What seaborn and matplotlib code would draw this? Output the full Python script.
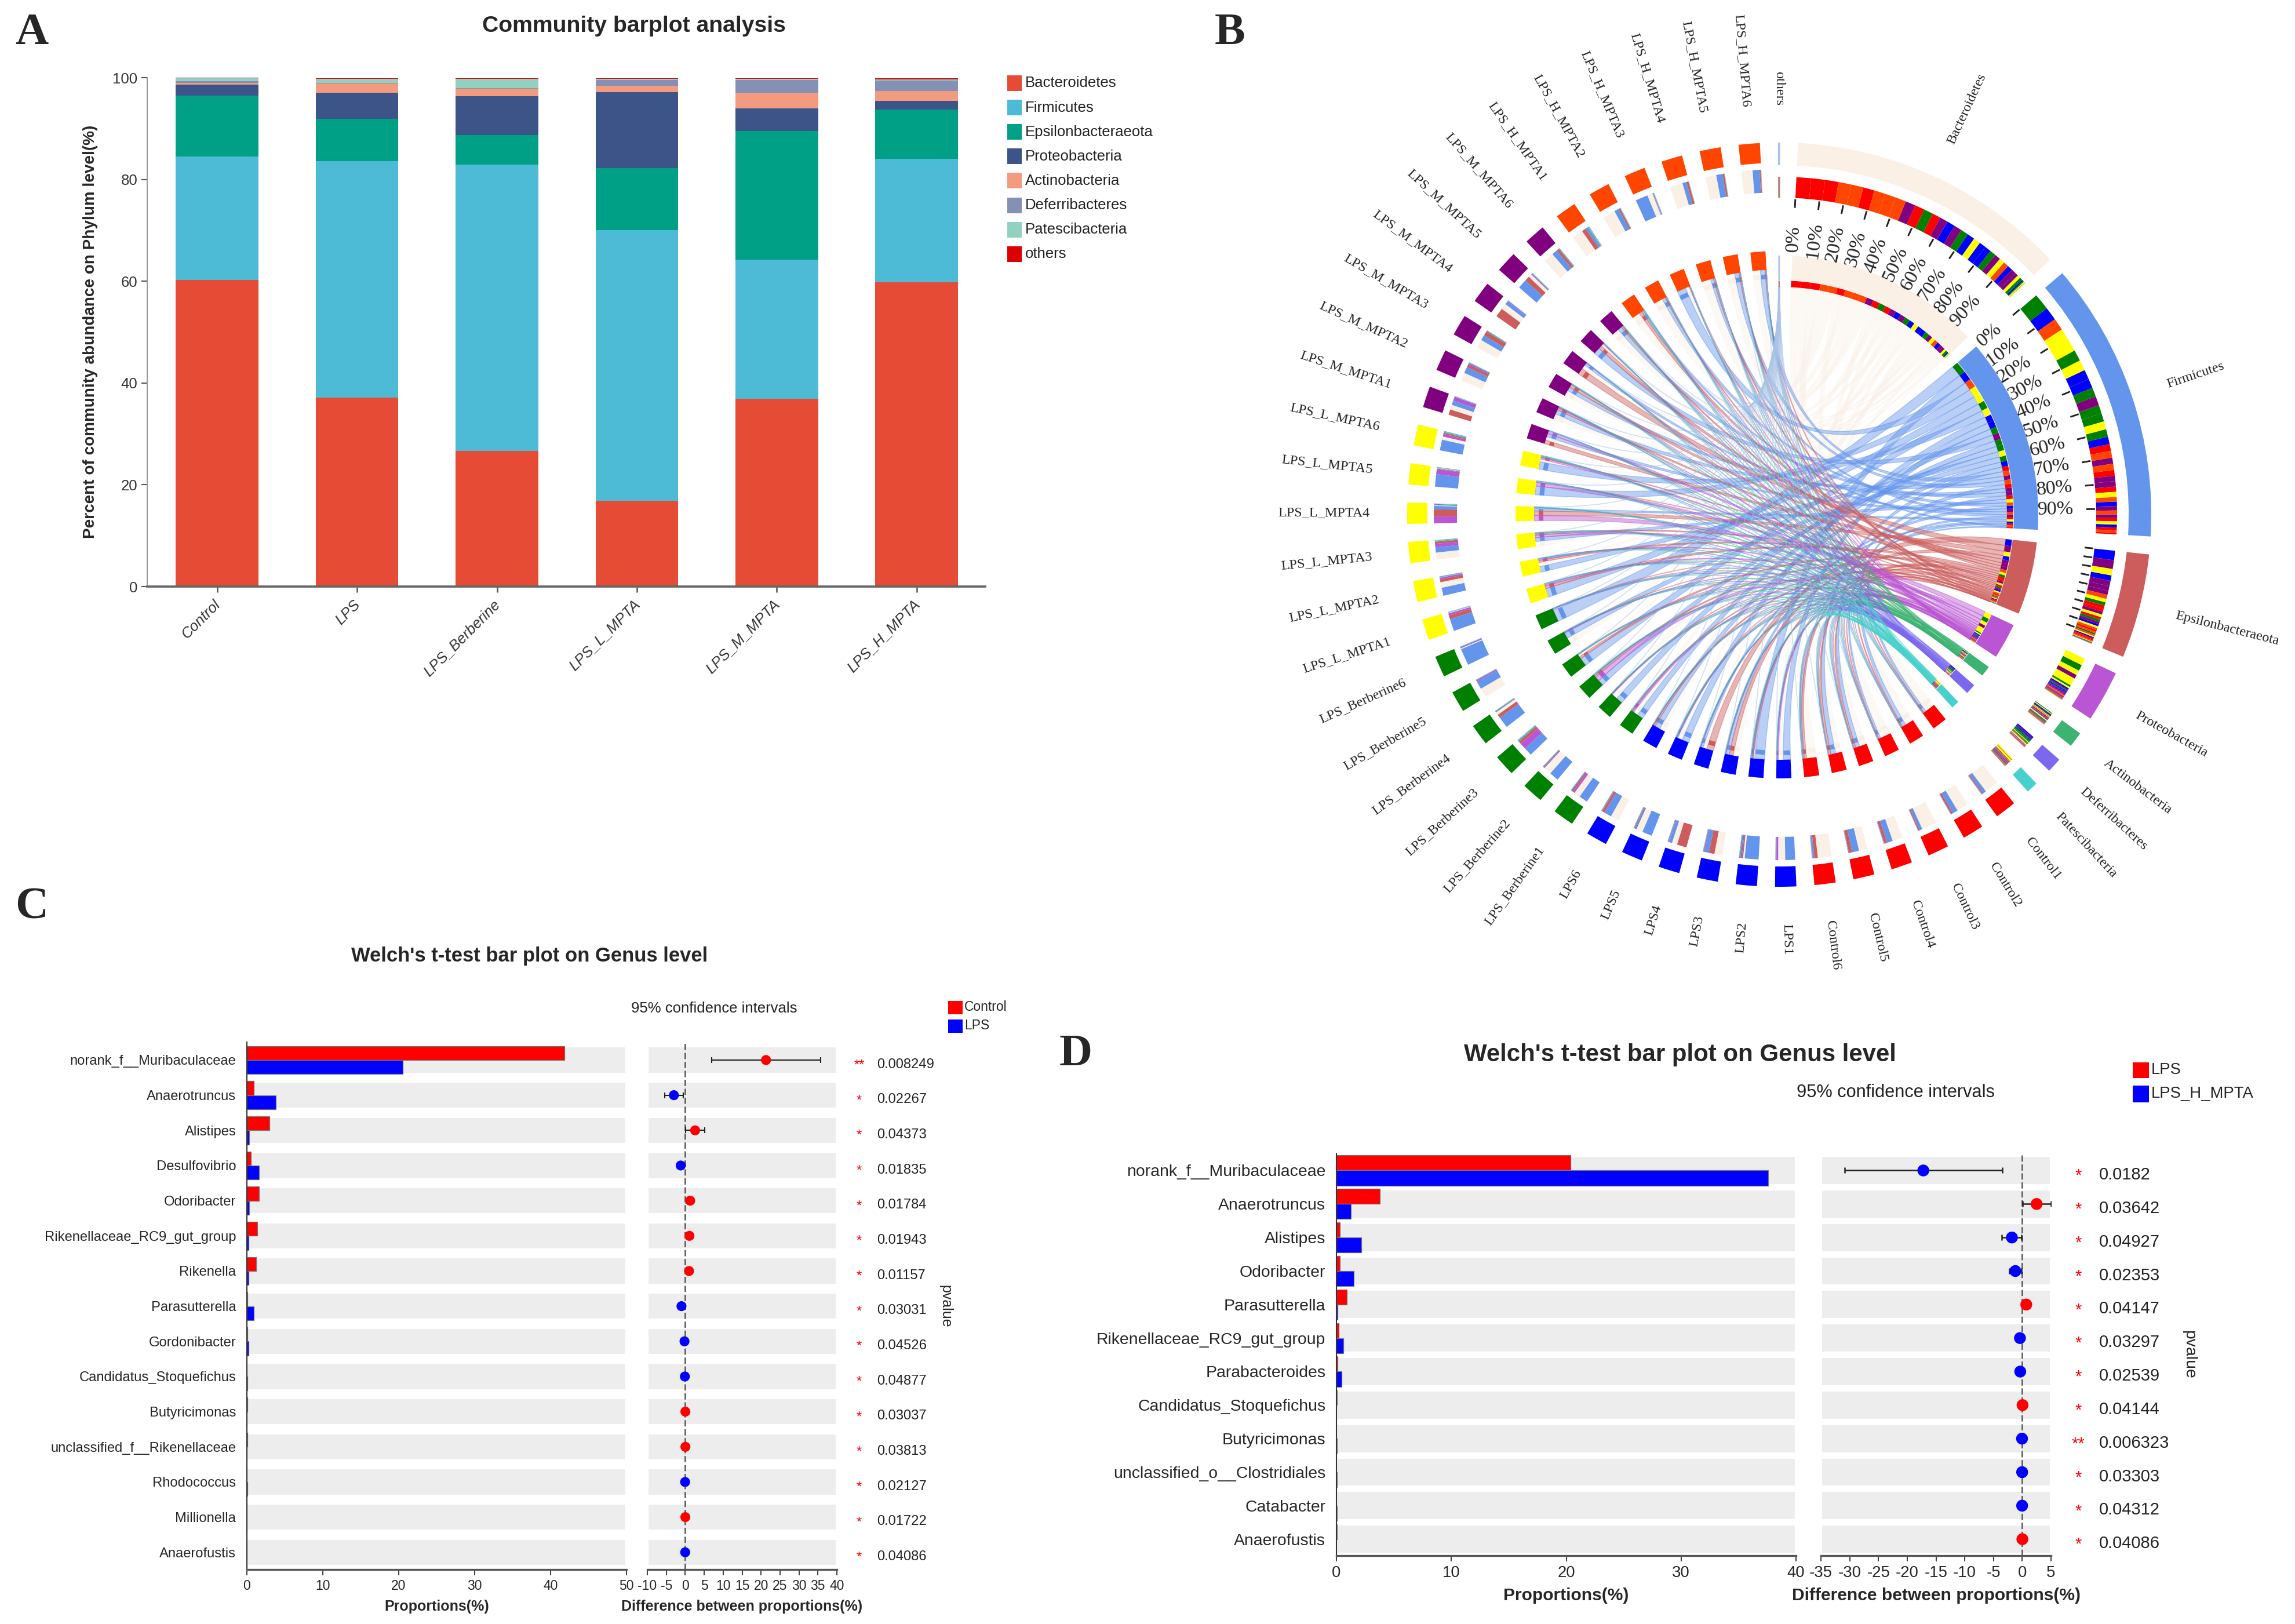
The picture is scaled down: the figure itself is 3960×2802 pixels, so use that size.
import numpy as np
import pandas as pd
import matplotlib
matplotlib.use('Agg')
import matplotlib.pyplot as plt
from matplotlib.patches import Wedge, Rectangle, PathPatch
from matplotlib.path import Path
from matplotlib.transforms import ScaledTranslation
import seaborn as sns

# panel A, percent per group
groups = ['Control', 'LPS', 'LPS_Berberine', 'LPS_L_MPTA', 'LPS_M_MPTA', 'LPS_H_MPTA']
phyla = ['Bacteroidetes', 'Firmicutes', 'Epsilonbacteraeota', 'Proteobacteria',
         'Actinobacteria', 'Deferribacteres', 'Patescibacteria', 'others']
phyla_colors = ['#E64B35', '#4DBBD5', '#00A087', '#3C5488', '#F39B7F', '#8491B4', '#91D1C2', '#DC0000']
bar_bacteroidetes = [60.2, 37.1, 26.7, 16.8, 36.9, 59.8]
bar_firmicutes = [24.3, 46.5, 56.2, 53.2, 27.3, 24.2]
bar_epsilon = [12.0, 8.3, 5.8, 12.2, 25.3, 9.7]
bar_proteo = [2.1, 5.1, 7.6, 14.9, 4.5, 1.8]
bar_actino = [0.4, 1.9, 1.5, 1.3, 3.0, 1.9]
bar_deferri = [0.3, 0.1, 0.1, 1.2, 2.6, 2.0]
bar_patesci = [0.6, 0.8, 1.9, 0.2, 0.2, 0.3]
bar_others = [0.1, 0.1, 0.1, 0.1, 0.1, 0.2]

# panel B, percent per sample (Control1-6, LPS1-6, Berberine1-6, L1-6, M1-6, H1-6)
sample_names = (['Control%d' % i for i in range(1, 7)] + ['LPS%d' % i for i in range(1, 7)]
                + ['LPS_Berberine%d' % i for i in range(1, 7)] + ['LPS_L_MPTA%d' % i for i in range(1, 7)]
                + ['LPS_M_MPTA%d' % i for i in range(1, 7)] + ['LPS_H_MPTA%d' % i for i in range(1, 7)])
s_bacteroidetes = [72, 60, 76, 52, 44, 70, 36, 8, 38, 25, 32, 42, 33, 40, 2, 14, 48, 5,
                   3, 28, 35, 3, 2, 16, 24, 38, 42, 30, 17, 52, 55, 68, 25, 70, 60, 58]
s_firmicutes = [17, 27, 15, 30, 36, 8, 50, 68, 22, 14, 48, 38, 45, 48, 40, 55, 40, 85,
                62, 40, 26, 16, 62, 52, 22, 30, 28, 18, 47, 28, 12, 25, 58, 22, 34, 36]
s_epsilon = [6, 9, 6, 13, 16, 17, 0.5, 6, 27, 45, 2, 12, 8, 3, 12, 16, 1, 0.5,
             18, 14, 10, 32, 3, 6, 27, 14, 22, 45, 24, 12, 20, 8, 1, 11, 9, 6]
s_proteo = [2, 2, 1.5, 3, 2.5, 2, 8, 3, 4, 3, 3, 2, 10, 2, 30, 1, 5, 1,
            10, 8, 17, 35, 25, 12, 20, 3, 2, 3, 5, 2, 2, 1, 2, 1, 1, 1]
s_actino = [0.5, 0.5, 0.3, 0.5, 0.5, 0.3, 1, 4, 2, 2, 4, 2, 2, 2, 4, 3, 2, 2,
            2, 2, 3, 3, 2, 4, 1, 2, 3, 1, 2, 3, 3, 2, 2, 1, 1, 0.5]
s_deferri = [0.5, 0.3, 0.2, 0.5, 0.4, 0.3, 4, 6, 1, 2, 5, 2, 3, 4, 3, 3, 3, 5,
             1, 2, 2, 3, 1, 2, 1, 5, 1, 1, 1, 1, 0.5, 0.3, 2, 0.3, 0.3, 0.5]
s_patesci = [1.5, 1, 0.8, 1, 0.7, 2, 0.5, 1.5, 1, 1, 1.5, 1, 1, 1, 2, 1.5, 1, 0.5,
             2, 2.5, 3, 3, 3, 3, 2, 1, 1, 0.5, 2, 1, 3, 1.5, 1.5, 1, 1, 1]
s_others = [0.2, 0.2, 0.2, 0.3, 0.2, 0.3, 0.3, 0.4, 0.4, 0.3, 0.3, 0.3, 0.2, 0.3, 0.3, 0.3, 0.2, 0.2,
            0.3, 0.4, 0.4, 0.3, 0.2, 0.3, 0.4, 0.3, 0.2, 0.3, 0.4, 0.2, 0.3, 0.3, 0.3, 0.2, 0.3, 0.2]
sector_colors = ['#FAF0E6', '#6495ED', '#CD5C5C', '#BA55D3', '#3CB371', '#7B68EE', '#48D1CC', '#A9C4E8']
group_colors = ['#FF0000', '#0000FF', '#008000', '#FFFF00', '#800080', '#FF4500']

# panel C
c_genera = ['norank_f__Muribaculaceae', 'Anaerotruncus', 'Alistipes', 'Desulfovibrio', 'Odoribacter',
            'Rikenellaceae_RC9_gut_group', 'Rikenella', 'Parasutterella', 'Gordonibacter',
            'Candidatus_Stoquefichus', 'Butyricimonas', 'unclassified_f__Rikenellaceae',
            'Rhodococcus', 'Millionella', 'Anaerofustis']
c_control = [41.8, 0.9, 3.0, 0.5, 1.6, 1.4, 1.2, 0.05, 0.05, 0.02, 0.05, 0.05, 0.01, 0.03, 0.01]
c_lps = [20.5, 3.8, 0.3, 1.6, 0.3, 0.2, 0.2, 0.9, 0.2, 0.1, 0.02, 0.01, 0.05, 0.01, 0.03]
c_diff = [21.3, -3.0, 2.6, -1.2, 1.3, 1.1, 1.0, -1.0, -0.2, -0.1, 0.03, 0.04, -0.04, 0.02, -0.02]
c_low = [7.0, -5.4, 0.1, -2.2, 0.3, 0.2, 0.2, -1.9, -0.4, -0.2, 0.0, 0.0, -0.1, 0.0, -0.05]
c_high = [35.7, -0.5, 5.2, -0.2, 2.3, 2.0, 1.8, -0.1, 0.0, 0.0, 0.06, 0.08, 0.0, 0.05, 0.0]
c_pvalues = ['0.008249', '0.02267', '0.04373', '0.01835', '0.01784', '0.01943', '0.01157', '0.03031',
             '0.04526', '0.04877', '0.03037', '0.03813', '0.02127', '0.01722', '0.04086']
c_stars = ['**'] + ['*'] * 14

# panel D
d_genera = ['norank_f__Muribaculaceae', 'Anaerotruncus', 'Alistipes', 'Odoribacter', 'Parasutterella',
            'Rikenellaceae_RC9_gut_group', 'Parabacteroides', 'Candidatus_Stoquefichus', 'Butyricimonas',
            'unclassified_o__Clostridiales', 'Catabacter', 'Anaerofustis']
d_lps = [20.4, 3.8, 0.3, 0.3, 0.9, 0.2, 0.1, 0.06, 0.02, 0.02, 0.02, 0.03]
d_hmpta = [37.6, 1.25, 2.15, 1.5, 0.1, 0.6, 0.45, 0.02, 0.06, 0.04, 0.04, 0.01]
d_diff = [-17.2, 2.5, -1.8, -1.2, 0.7, -0.4, -0.35, 0.05, -0.04, -0.02, -0.02, 0.02]
d_low = [-30.9, 0.1, -3.6, -2.3, 0.1, -0.7, -0.6, 0.01, -0.07, -0.04, -0.04, 0.0]
d_high = [-3.5, 5.0, -0.1, -0.1, 1.4, -0.1, -0.1, 0.09, -0.01, 0.0, 0.0, 0.04]
d_pvalues = ['0.0182', '0.03642', '0.04927', '0.02353', '0.04147', '0.03297', '0.02539',
             '0.04144', '0.006323', '0.03303', '0.04312', '0.04086']
d_stars = ['*'] * 8 + ['**'] + ['*'] * 3

SANS = 'Liberation Sans'
SERIF = 'Liberation Serif'
W, H = 3960, 2802

sns.set_style('white')
plt.rcParams['font.family'] = [SANS, 'DejaVu Sans']
plt.rcParams['axes.unicode_minus'] = False

fig = plt.figure(figsize=(W / 300, H / 300), dpi=300, facecolor='white')


def px_axes(left, top, right, bottom):
    return fig.add_axes([left / W, 1 - bottom / H, (right - left) / W, (bottom - top) / H])


# whole figure overlay in pixels, y pointing down
over = fig.add_axes([0, 0, 1, 1], zorder=5)
over.set_xlim(0, W)
over.set_ylim(H, 0)
over.axis('off')
over.patch.set_alpha(0)

for letter, x, y in [('A', 26, 58), ('B', 2096, 58), ('C', 26, 1566), ('D', 1828, 1820)]:
    over.text(x, y, letter, family=SERIF, fontweight='bold', fontsize=19, va='center', ha='left')

# ---- A: stacked bars
ax_a = px_axes(254, 134, 1700, 1012)
stack = np.array([bar_bacteroidetes, bar_firmicutes, bar_epsilon, bar_proteo,
                  bar_actino, bar_deferri, bar_patesci, bar_others])
tops = stack.cumsum(axis=0)
for k in range(len(phyla) - 1, -1, -1):
    sns.barplot(x=groups, y=tops[k], color=phyla_colors[k], width=0.59, saturation=1,
                linewidth=0, ax=ax_a, order=groups)
ax_a.set_xlim(-0.5, 5.49)
ax_a.set_ylim(0, 100)
ax_a.set_yticks([0, 20, 40, 60, 80, 100])
ax_a.tick_params(axis='y', labelsize=6.2, length=2.5, width=0.5, color='#555555', pad=1.5, labelcolor='#333333', left=True)
ax_a.tick_params(axis='x', length=2.5, width=0.6, color='#555555', pad=2, bottom=True)
ax_a.set_xticks(range(6))
ax_a.set_xticklabels(groups, rotation=45, ha='right', rotation_mode='anchor', fontsize=6.2,
                     style='italic', color='#333333')
shift = ScaledTranslation(-7 / 300, 0, fig.dpi_scale_trans)
for lab in ax_a.get_xticklabels():
    lab.set_transform(lab.get_transform() + shift)
ax_a.set_ylabel('')
sns.despine(ax=ax_a)
ax_a.spines['bottom'].set_color('#666666')
ax_a.spines['bottom'].set_linewidth(0.9)
ax_a.spines['left'].set_color('#888888')
ax_a.spines['left'].set_linewidth(0.4)
over.text(1094, 45, 'Community barplot analysis', fontsize=9.4, fontweight='bold', ha='center', va='center')
over.text(156, 572, 'Percent of community abundance on Phylum level(%)', fontsize=6.7, fontweight='bold',
          rotation=90, ha='center', va='center')
for k, name in enumerate(phyla):
    over.add_patch(Rectangle((1738, 130 + 42.1 * k), 25, 27, color=phyla_colors[k], lw=0))
    over.text(1769, 143.5 + 42.1 * k, name, fontsize=6.2, va='center', ha='left', color='#222222')

# ---- B: chord diagram
CX, CY = 3070, 888
BLOCK = 3.3
matrix = np.array([s_bacteroidetes, s_firmicutes, s_epsilon, s_proteo, s_actino, s_deferri, s_patesci, s_others],
                  dtype=float)
matrix = matrix / matrix.sum(axis=0) * BLOCK
sector_width = matrix.sum(axis=1)
GAP = (360 - 2 * BLOCK * len(sample_names)) / (len(sample_names) + len(phyla))
sample_color = np.repeat(group_colors, 6)


def polar(a, r):
    a = np.radians(a)
    return CX + r * np.sin(a), CY - r * np.cos(a)


def arc(a0, a1, r_in, r_out, color):
    over.add_patch(Wedge((CX, CY), r_out, a0 - 90, a1 - 90, width=r_out - r_in, color=color, lw=0, zorder=3))


# sector start angles, clockwise from the top, others comes first
order = [7, 0, 1, 2, 3, 4, 5, 6]
phy_start = {}
pos = -0.2
for k in order:
    phy_start[k] = pos
    pos += sector_width[k] + GAP
smp_start = [pos + i * (BLOCK + GAP) for i in range(len(sample_names))]

# segment spans, sorted largest first on both ends
phy_span = {}
for k in order:
    a = phy_start[k]
    for i in np.argsort(-matrix[k], kind='stable'):
        phy_span[(k, i)] = (a, a + matrix[k, i])
        a += matrix[k, i]
smp_span = {}
for i in range(len(sample_names)):
    a = smp_start[i]
    for k in np.argsort(-matrix[:, i], kind='stable'):
        smp_span[(k, i)] = (a, a + matrix[k, i])
        a += matrix[k, i]

# ribbons, thin ones keep a visible edge
for k in range(len(phyla)):
    for i in range(len(sample_names)):
        p0, p1 = phy_span[(k, i)]
        s0, s1 = smp_span[(k, i)]
        verts = [polar(p0, 393), polar(p1, 393), (CX, CY), polar(s0, 423), polar(s1, 423), (CX, CY), polar(p0, 393)]
        codes = [Path.MOVETO, Path.LINETO, Path.CURVE3, Path.CURVE3, Path.LINETO, Path.CURVE3, Path.CURVE3]
        edge = sector_colors[k] if k > 0 else 'none'
        over.add_patch(PathPatch(Path(verts, codes), facecolor=sector_colors[k], edgecolor=edge, linewidth=0.35,
                                 alpha=0.45, zorder=1 + k * 0.01))

# phylum side rings
for k in order:
    a0, a1 = phy_start[k], phy_start[k] + sector_width[k]
    arc(a0, a1, 603, 642, sector_colors[k])
    arc(a0, a1, 405, 447, sector_colors[k])
    for i in range(len(sample_names)):
        s0, s1 = phy_span[(k, i)]
        arc(s0, s1, 547, 583, sample_color[i])
        arc(s0, s1, 393, 404, sample_color[i])

# sample side rings
for i in range(len(sample_names)):
    a0 = smp_start[i]
    arc(a0, a0 + BLOCK, 607, 642, sample_color[i])
    arc(a0, a0 + BLOCK, 423, 455, sample_color[i])
    for k in range(len(phyla)):
        s0, s1 = smp_span[(k, i)]
        arc(s0, s1, 556, 596, sector_colors[k])
        arc(s0, s1, 407, 415, sector_colors[k])

# percent ticks on the three large sectors
for k in [0, 1, 2]:
    for t in range(10):
        a = phy_start[k] + sector_width[k] * t / 10
        x0, y0 = polar(a, 530)
        x1, y1 = polar(a, 545)
        over.plot([x0, x1], [y0, y1], color='#222222', lw=0.7, zorder=3, solid_capstyle='butt')
        if k < 2:
            x, y = polar(a, 477)
            over.text(x, y, '%d%%' % (t * 10), family=SERIF, fontsize=8.2, rotation=90 - a,
                      ha='center', va='center', rotation_mode='anchor', color='#222222')


def outer_label(text, a):
    a = a % 360
    x, y = polar(a, 706)
    if a < 180:
        over.text(x, y, text, family=SERIF, fontsize=5.8, rotation=90 - a, ha='left', va='center',
                  rotation_mode='anchor', color='#222222')
    else:
        over.text(x, y, text, family=SERIF, fontsize=5.8, rotation=270 - a, ha='right', va='center',
                  rotation_mode='anchor', color='#222222')


for k in order:
    outer_label(phyla[k], phy_start[k] + sector_width[k] / 2)
for i, name in enumerate(sample_names):
    outer_label(name, smp_start[i] + BLOCK / 2)


# ---- C and D: Welch panels
def welch_panel(box_l, box_r, genera, first, second, names, diff, low, high, pvalues, stars,
                xmax, diff_lim, diff_ticks, band, bar_w, dot, tick_fs, lab_fs, pv_fs, err_lw):
    n = len(genera)
    long_table = pd.DataFrame({'genus': genera * 2, 'value': first + second,
                               'group': [names[0]] * n + [names[1]] * n})
    ax = px_axes(*box_l)
    sns.barplot(data=long_table, y='genus', x='value', hue='group', order=genera, hue_order=names,
                palette=['#FF0000', '#0000FF'], width=bar_w, saturation=1, edgecolor='#777777',
                linewidth=0.3, legend=False, ax=ax)
    ax.barh(range(n), [xmax] * n, height=band, color='#EDEDED', zorder=0)
    ax.set_xlim(0, xmax)
    ax.set_ylim(n - 0.51, -0.51)
    ax.set_xticks(np.arange(0, xmax + 1, 10))
    ax.set_xlabel('Proportions(%)', fontsize=lab_fs, fontweight='bold', labelpad=3)
    ax.set_ylabel('')
    ax.tick_params(axis='x', labelsize=tick_fs, length=2.5, width=0.5, pad=1.5, bottom=True, color='#444444')
    ax.tick_params(axis='y', labelsize=tick_fs + 0.2, length=0, pad=4.5)
    sns.despine(ax=ax, top=True, right=True)
    ax.spines['bottom'].set_color('#555555')
    ax.spines['bottom'].set_linewidth(0.8)
    ax.spines['left'].set_color('#333333')
    ax.spines['left'].set_linewidth(0.5)

    ax2 = px_axes(box_r[0], box_l[1], box_r[1], box_l[3])
    ax2.barh(range(n), [diff_lim[1] - diff_lim[0]] * n, left=diff_lim[0], height=band, color='#EDEDED', zorder=0)
    ax2.axvline(0, color='#666666', ls='--', lw=0.7, zorder=1)
    ax2.errorbar(diff, range(n), xerr=[np.array(diff) - np.array(low), np.array(high) - np.array(diff)],
                 fmt='none', ecolor='#222222', elinewidth=err_lw, capsize=1.2, capthick=err_lw, zorder=2)
    winner = [names[0] if v >= 0 else names[1] for v in diff]
    sns.scatterplot(x=diff, y=list(range(n)), hue=winner, hue_order=names, palette=['#FF0000', '#0000FF'],
                    s=dot, linewidth=0, legend=False, zorder=3, ax=ax2)
    ax2.set_xlim(*diff_lim)
    ax2.set_ylim(n - 0.51, -0.51)
    ax2.set_yticks([])
    ax2.set_xticks(diff_ticks)
    ax2.set_xlabel('Difference between proportions(%)', fontsize=lab_fs, fontweight='bold', labelpad=3)
    ax2.tick_params(axis='x', labelsize=tick_fs, length=2.5, width=0.5, pad=1.5, bottom=True, color='#444444')
    sns.despine(ax=ax2, left=True)
    ax2.spines['bottom'].set_color('#555555')
    ax2.spines['bottom'].set_linewidth(0.8)
    trans = ax2.get_yaxis_transform()
    for i in range(n):
        ax2.text(1.118, i + 0.16, stars[i], color='#FF0000', fontsize=pv_fs, ha='center', va='center',
                 transform=trans, clip_on=False)
        ax2.text(1.21, i + 0.13, pvalues[i], fontsize=pv_fs, ha='left', va='center',
                 transform=trans, clip_on=False, color='#222222')


welch_panel((426, 1798, 1081, 2708), (1117, 1444), c_genera, c_control, c_lps, ['Control', 'LPS'],
            c_diff, c_low, c_high, c_pvalues, c_stars, 50, (-10, 40), list(range(-10, 41, 5)),
            0.78, 0.8, 17, 5.5, 6.0, 5.7, 0.5)
welch_panel((2306, 1990, 3099, 2684), (3142, 3539), d_genera, d_lps, d_hmpta, ['LPS', 'LPS_H_MPTA'],
            d_diff, d_low, d_high, d_pvalues, d_stars, 40, (-35, 5), list(range(-35, 6, 5)),
            0.88, 0.9, 24, 6.6, 7.2, 7.0, 0.6)

over.text(914, 1650, "Welch's t-test bar plot on Genus level", fontsize=8.3, fontweight='bold', ha='center', va='center')
over.text(1232, 1740, '95% confidence intervals', fontsize=6.2, ha='center', va='center', color='#222222')
over.text(1631, 2254, 'pvalue', fontsize=6, rotation=270, ha='center', va='center')
over.add_patch(Rectangle((1636, 1727), 25, 23, color='#FF0000', lw=0))
over.add_patch(Rectangle((1636, 1759), 25, 23, color='#0000FF', lw=0))
over.text(1664, 1738, 'Control', fontsize=5.5, va='center')
over.text(1664, 1770, 'LPS', fontsize=5.5, va='center')

over.text(2899, 1820, "Welch's t-test bar plot on Genus level", fontsize=10.1, fontweight='bold', ha='center', va='center')
over.text(3271, 1885, '95% confidence intervals', fontsize=7.4, ha='center', va='center', color='#222222')
over.text(3777, 2337, 'pvalue', fontsize=6.8, rotation=270, ha='center', va='center')
over.add_patch(Rectangle((3680, 1833), 28, 27, color='#FF0000', lw=0))
over.add_patch(Rectangle((3680, 1873), 28, 29, color='#0000FF', lw=0))
over.text(3712, 1846, 'LPS', fontsize=6.6, va='center')
over.text(3712, 1887, 'LPS_H_MPTA', fontsize=6.6, va='center')

fig.savefig('out.png', dpi=300, facecolor='white')
